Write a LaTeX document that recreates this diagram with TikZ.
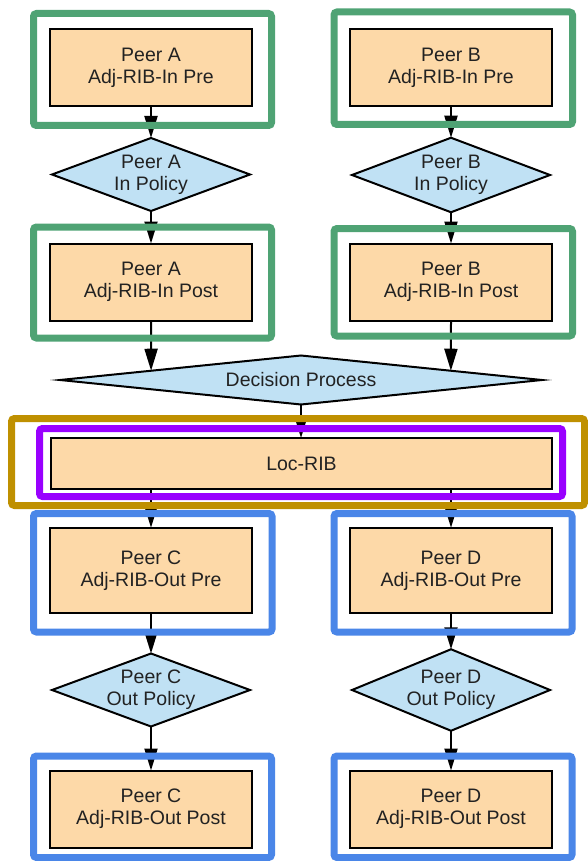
\documentclass[tikz,border=0pt]{standalone}
\usepackage{fontspec}
\setmainfont{Liberation Sans}
\usetikzlibrary{arrows.meta,shapes.geometric,calc}

\definecolor{ribfill}{HTML}{FDD9A8}
\definecolor{polfill}{HTML}{C0E1F4}
\definecolor{ink}{HTML}{222222}
\definecolor{ingreen}{HTML}{4FA374}
\definecolor{outblue}{HTML}{4A86E8}
\definecolor{locgold}{HTML}{BF9000}
\definecolor{locpurple}{HTML}{9900FF}

\tikzset{
  txt/.style={font=\fontsize{19.5}{22}\selectfont, text=ink, align=center},
  rib/.style={txt, draw=black, line width=2pt, fill=ribfill, rectangle,
    minimum width=202pt, minimum height=77pt, inner sep=0pt, outer sep=0pt},
  policy/.style={txt, draw=black, line width=2pt, fill=polfill, diamond,
    aspect=2.7, minimum width=198pt, minimum height=73pt, inner sep=0pt, outer sep=0pt},
  flow/.style={draw=black, line width=2pt, -{Triangle[length=22pt,width=13pt]}},
  frame/.style={line width=7pt, rounded corners=3pt},
  inframe/.style={frame, draw=ingreen},
  outframe/.style={frame, draw=outblue},
}

\begin{document}
\begin{tikzpicture}[x=1pt,y=-1pt]
\useasboundingbox (0,0) rectangle (588,861);

% inbound side
\node[rib] (a1) at (151,67.5) {Peer A\\Adj-RIB-In Pre};
\node[rib] (b1) at (451,67.5) {Peer B\\Adj-RIB-In Pre};
\node[policy] (pa) at (151,174.5) {Peer A\\In Policy};
\node[policy, minimum height=74.5pt] (pb) at (451,175) {Peer B\\In Policy};
\node[rib] (a2) at (151,282) {Peer A\\Adj-RIB-In Post};
\node[rib] (b2) at (451,282) {Peer B\\Adj-RIB-In Post};

% best path selection
\node[policy, aspect=9.8, minimum width=482pt, minimum height=49pt] (dec) at (301,380) {Decision Process};
\node[rib, minimum width=501pt, minimum height=51pt] (loc) at (301.5,463.5) {Loc-RIB};

% outbound side
\node[rib, minimum height=85.5pt] (c1) at (151,570.5) {Peer C\\Adj-RIB-Out Pre};
\node[rib, minimum height=85.5pt] (d1) at (451,570.5) {Peer D\\Adj-RIB-Out Pre};
\node[policy] (pc) at (151,690) {Peer C\\Out Policy};
\node[policy, minimum height=81.5pt] (pd) at (451,690) {Peer D\\Out Policy};
\node[rib] (c2) at (151,809) {Peer C\\Adj-RIB-Out Post};
\node[rib] (d2) at (451,809) {Peer D\\Adj-RIB-Out Post};

% where the post-policy tables meet the decision diamond
\coordinate (decA) at ($(dec.west)!0.378!(dec.north)$);
\coordinate (decB) at ($(dec.east)!0.378!(dec.north)$);

% connectors
\draw[flow] (a1.south) -- (pa.north);
\draw[flow] (b1.south) -- (pb.north);
\draw[flow] (pa.south) -- (a2.north);
\draw[flow] (pb.south) -- (b2.north);
\draw[flow] (a2.south) -- (decA);
\draw[flow] (b2.south) -- (decB);
\draw[flow] (dec.south) -- (dec.south |- loc.north);
\draw[flow] (loc.south -| c1.north) -- (c1.north);
\draw[flow] (loc.south -| d1.north) -- (d1.north);
\draw[flow] (c1.south) -- (pc.north);
\draw[flow] (d1.south) -- (pd.north);
\draw[flow] (pc.south) -- (c2.north);
\draw[flow] (pd.south) -- (d2.north);

% table group outlines
\draw[inframe] (33.5,13.5) rectangle (271.5,125.5);
\draw[inframe] (334,12) rectangle (572.5,124.5);
\draw[inframe] (33.5,227) rectangle (271.5,338);
\draw[inframe] (334,228.5) rectangle (572.5,336);
\draw[frame, draw=locgold] (11.5,418.5) rectangle (584.5,505.5);
\draw[frame, draw=locpurple] (39.5,428.5) rectangle (562.5,496.5);
\draw[outframe] (33.5,513.5) rectangle (272,632);
\draw[outframe] (334,513.5) rectangle (572,632);
\draw[outframe] (33.5,756) rectangle (271.5,857.5);
\draw[outframe] (334,756) rectangle (572,857.5);
\end{tikzpicture}
\end{document}
